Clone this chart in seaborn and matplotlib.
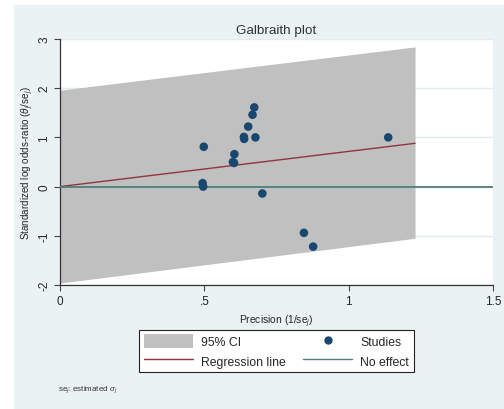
import matplotlib
matplotlib.use("Agg")
import matplotlib.pyplot as plt
import seaborn as sns
import pandas as pd
import numpy as np
from matplotlib.patches import Rectangle, Patch
from matplotlib.lines import Line2D

# ---- data ----
precision = [0.498, 0.494, 0.496, 0.599, 0.603, 0.604, 0.637, 0.638, 0.652,
             0.667, 0.673, 0.677, 0.701, 0.845, 0.877, 1.137]
std_effect = [0.81, 0.07, 0.00, 0.50, 0.48, 0.66, 1.01, 0.97, 1.22,
              1.46, 1.61, 1.00, -0.14, -0.94, -1.22, 1.00]

band_x = [0.0, 1.23]
ci_upper = [1.96, 2.84]
ci_lower = [-1.96, -1.05]
reg_line = [0.0, 0.88]

x_ticks = [0, 0.5, 1, 1.5]
x_ticklabels = ["0", ".5", "1", "1.5"]
y_ticks = [-2, -1, 0, 1, 2, 3]
y_ticklabels = ["-2", "-1", "0", "1", "2", "3"]

# ---- colours ----
bg = "#eaf2f3"
grid_col = "#e3eced"
band_col = "#c0c0c0"
pt_col = "#1a476f"
reg_col = "#90353b"
noeff_col = "#4f7f78"

sns.set_theme(style="white")
plt.rcParams["font.family"] = ["Liberation Sans", "DejaVu Sans"]
plt.rcParams["mathtext.fontset"] = "custom"
plt.rcParams["mathtext.rm"] = "Liberation Sans"
plt.rcParams["mathtext.it"] = "Liberation Sans:italic"

fig = plt.figure(figsize=(5.04, 4.10), dpi=100)
fig.patch.set_facecolor("white")
fig.add_artist(Rectangle((14 / 504, 0), 1 - 14 / 504, (410 - 6) / 410,
                         transform=fig.transFigure, facecolor=bg,
                         edgecolor="none", zorder=0))

ax = fig.add_axes([60 / 504, (410 - 286) / 410, (493 - 60) / 504, (286 - 40) / 410])
ax.set_facecolor("white")

# gridlines
for yv in y_ticks:
    ax.axhline(yv, color=grid_col, lw=1.0, zorder=0.5)

ax.fill_between(band_x, ci_lower, ci_upper, color=band_col, lw=0, zorder=1)

df_reg = pd.DataFrame({"x": band_x, "y": reg_line})
sns.lineplot(data=df_reg, x="x", y="y", color=reg_col, lw=1.0, ax=ax, zorder=3)
ax.axhline(0, color=noeff_col, lw=1.3, zorder=3)

df = pd.DataFrame({"precision": precision, "effect": std_effect})
sns.scatterplot(data=df, x="precision", y="effect", color=pt_col, s=38,
                edgecolor="none", ax=ax, zorder=4)

ax.set_xlim(0, 1.5)
ax.set_ylim(-2, 3)
ax.set_xticks(x_ticks)
ax.set_xticklabels(x_ticklabels, fontsize=8.5)
ax.set_yticks(y_ticks)
ax.set_yticklabels(y_ticklabels, fontsize=8.5, rotation=90, va="center")
ax.tick_params(axis="both", which="both", length=4, width=0.8, color="#444444",
               bottom=True, left=True, pad=3)

for s in ["top", "right"]:
    ax.spines[s].set_visible(False)
for s in ["left", "bottom"]:
    ax.spines[s].set_color("#333333")
    ax.spines[s].set_linewidth(0.9)

ax.set_xlabel(r"Precision (1/se$_j$)", fontsize=7.4, labelpad=4)
ax.set_ylabel(r"Standardized log odds-ratio ($\theta_j$/se$_j$)", fontsize=7.1, labelpad=2)
ax.set_title("Galbraith plot", fontsize=9.7, color="#333333", pad=4)

handles = [Patch(facecolor=band_col, edgecolor="none"),
           Line2D([], [], color=reg_col, lw=1.0),
           Line2D([], [], marker="o", color=pt_col, lw=0, markersize=5),
           Line2D([], [], color=noeff_col, lw=1.0)]
labels = ["95% CI", "Regression line", "Studies", "No effect"]
leg = fig.legend(handles, labels, loc="center",
                 bbox_to_anchor=((139 + 414) / 2 / 504, (410 - 352) / 410),
                 ncol=2, fontsize=8.8, frameon=True, fancybox=False,
                 edgecolor="#222222", framealpha=1, handlelength=4.0,
                 handleheight=1.3, columnspacing=1.4, handletextpad=0.7,
                 borderpad=0.35, labelspacing=0.45)
leg.get_frame().set_linewidth(0.8)

fig.text(58 / 504, (410 - 390) / 410, r"se$_j$: estimated $\sigma_j$", fontsize=5.8,
         ha="left", va="center", color="#333333")

fig.savefig("out.png", dpi=100)
